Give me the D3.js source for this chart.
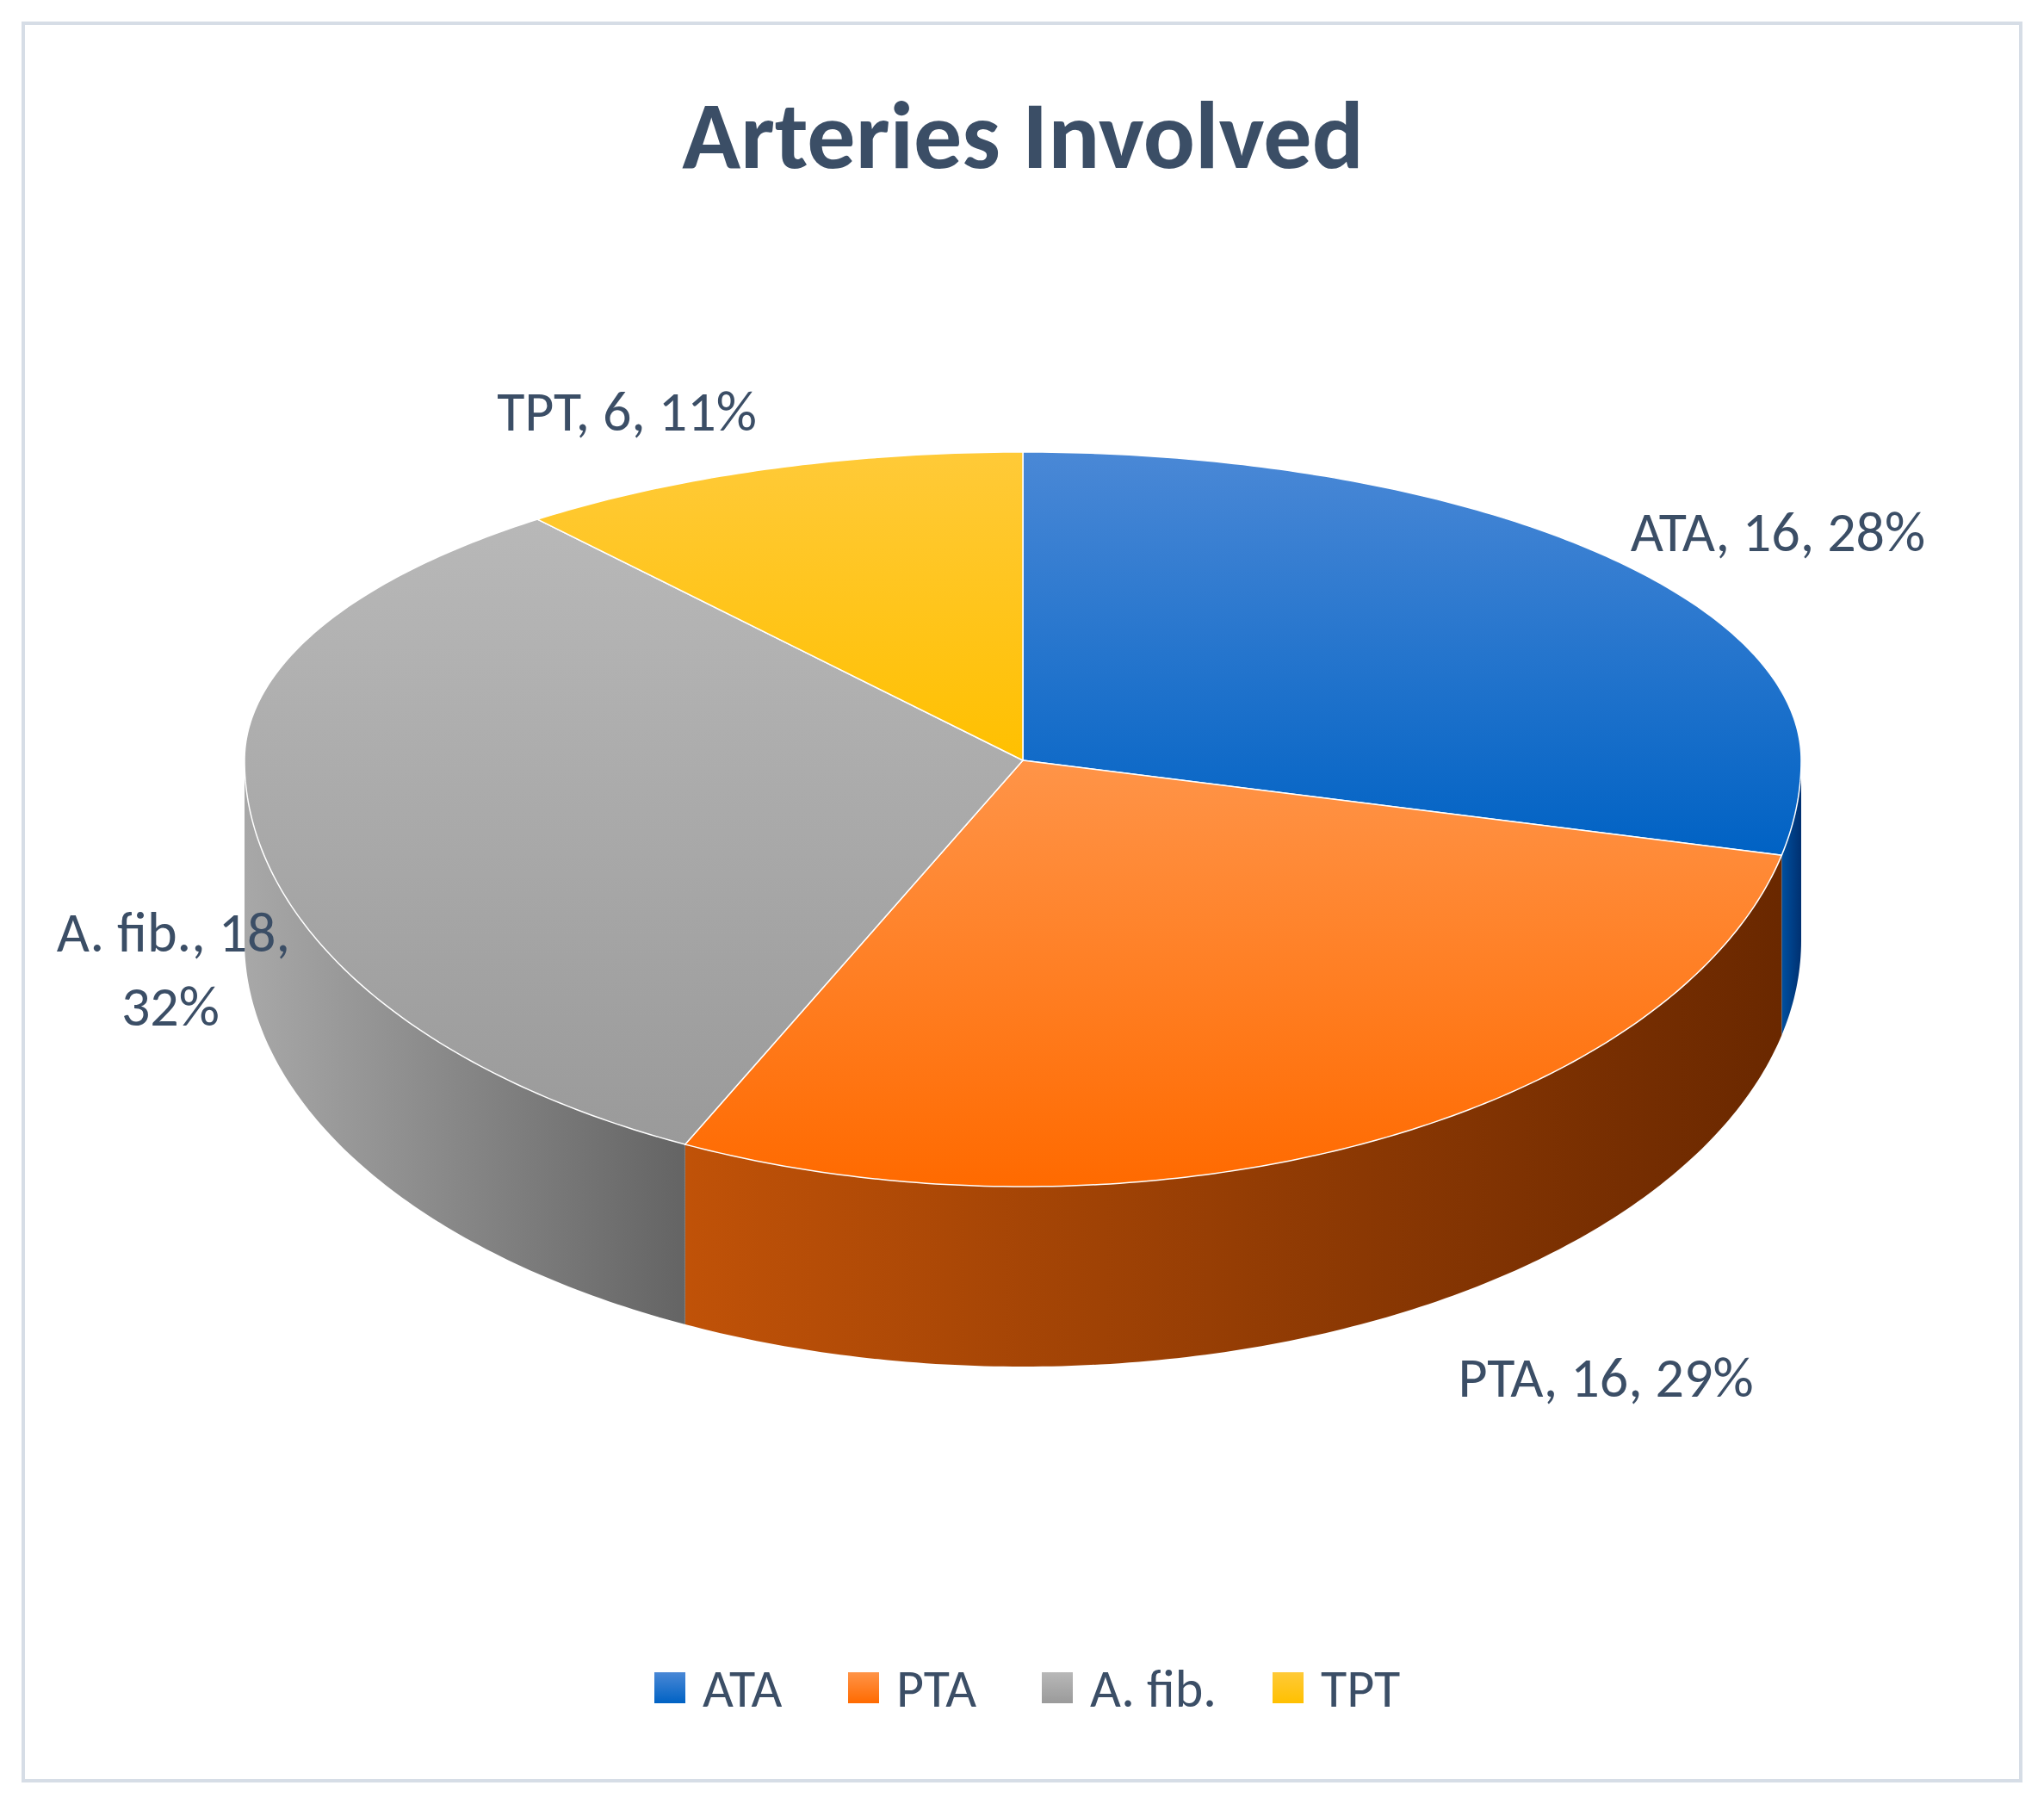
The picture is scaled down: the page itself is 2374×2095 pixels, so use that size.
<!DOCTYPE html>
<html><head><meta charset="utf-8">
<script src="https://cdn.jsdelivr.net/npm/d3@7/dist/d3.min.js"></script>
<style>body{margin:0;background:#fff}</style></head>
<body><script>
const categories = ["ATA","PTA","A. fib.","TPT"];
const values = [16,16,18,6];
const percentLabels = ["28%","29%","32%","11%"];
const topColors = [["#4a88d6","#0062c4"],["#ff9448","#ff6a00"],["#b8b8b8","#9a9a9a"],["#ffca38","#ffc000"]];
const sideColors = [["#0050a0","#003070"],["#c05208","#6a2800"],["#a8a8a8","#646464"],["#d09800","#a07000"]];

const W=2374,H=2095;
const svg=d3.select("body").append("svg").attr("width",W).attr("height",H).style("font-family","Calibri, Carlito, 'Open Sans', sans-serif");
svg.append("rect").attr("x",27).attr("y",27).attr("width",2320).attr("height",2041).attr("fill","#fff").attr("stroke","#d6dde6").attr("stroke-width",4);
svg.append("text").attr("x",1188).attr("y",195).attr("text-anchor","middle").attr("font-size",112).attr("font-weight","bold").attr("fill","#3b4e66").text("Arteries Involved");

const cx=1188,cy=883,rx=904,ryTop=358,ryBot=495,depth=209;
const pt=(a)=>{const c=Math.cos(a);return [cx+rx*Math.sin(a), cy-(c>0?ryTop:ryBot)*c];};
const pie=d3.pie().sort(null).value(d=>d)(values);
const defs=svg.append("defs");
pie.forEach((p,i)=>{
  const g=defs.append("linearGradient").attr("id","t"+i).attr("x1",0).attr("y1",0).attr("x2",0).attr("y2",1);
  g.append("stop").attr("offset","0%").attr("stop-color",topColors[i][0]);
  g.append("stop").attr("offset","100%").attr("stop-color",topColors[i][1]);
  const s=defs.append("linearGradient").attr("id","s"+i).attr("x1",0).attr("y1",0).attr("x2",1).attr("y2",0);
  s.append("stop").attr("offset","0%").attr("stop-color",sideColors[i][0]);
  s.append("stop").attr("offset","100%").attr("stop-color",sideColors[i][1]);
});
const arcPts=(a0,a1)=>{const n=Math.max(4,Math.ceil((a1-a0)*80));return d3.range(n+1).map(k=>pt(a0+(a1-a0)*k/n));};
pie.forEach((p,i)=>{
  const a0=Math.max(p.startAngle,Math.PI/2), a1=Math.min(p.endAngle,3*Math.PI/2);
  if(a1<=a0) return;
  const top=arcPts(a0,a1), bot=top.slice().reverse().map(([x,y])=>[x,y+depth]);
  svg.append("path").attr("d",d3.line()(top.concat(bot))+"Z").attr("fill",`url(#s${i})`);
});
pie.forEach((p,i)=>{
  const ptsA=[[cx,cy]].concat(arcPts(p.startAngle,p.endAngle));
  svg.append("path").attr("d",d3.line()(ptsA)+"Z").attr("fill",`url(#t${i})`).attr("stroke","#fff").attr("stroke-width",1.5);
});
const lab=[[2065,640,"middle",[`${categories[0]}, ${values[0]}, ${percentLabels[0]}`]],
 [1865,1622,"middle",[`${categories[1]}, ${values[1]}, ${percentLabels[1]}`]],
 [337,1105,"end",[`${categories[2]}, ${values[2]},`, percentLabels[2]]],
 [728,500,"middle",[`${categories[3]}, ${values[3]}, ${percentLabels[3]}`]]];
lab.forEach(([x,y,anc,lines])=>{
  const t=svg.append("text").attr("font-size",66).attr("fill","#3b4e66").attr("text-anchor",anc);
  lines.forEach((l,k)=>t.append("tspan").attr("x",k===1&&anc==="end"?255:x).attr("y",y+k*86).text(l));
});
const lx=[760,985,1210,1478];
categories.forEach((c,i)=>{
  svg.append("rect").attr("x",lx[i]).attr("y",1942).attr("width",36).attr("height",36).attr("fill",`url(#t${i})`);
  svg.append("text").attr("x",lx[i]+56).attr("y",1982).attr("font-size",62).attr("fill","#3b4e66").text(c);
});
</script></body></html>
